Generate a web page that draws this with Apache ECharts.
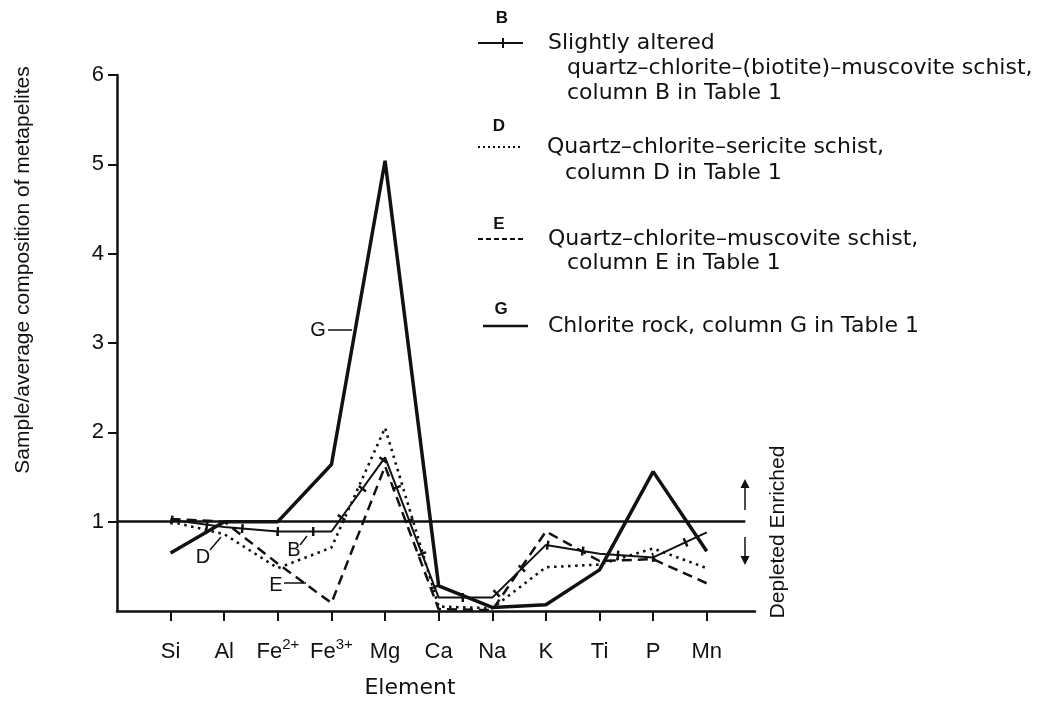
<!DOCTYPE html>
<html>
<head>
<meta charset="utf-8">
<script src="https://cdn.jsdelivr.net/npm/echarts@6/dist/echarts.min.js"></script>
<style>
html,body{margin:0;padding:0;background:#fff;}
#chart{width:1056px;height:706px;}
</style>
</head>
<body>
<div id="chart"></div>
<script>
// ---- data ----
const elements = ['Si', 'Al', 'Fe2+', 'Fe3+', 'Mg', 'Ca', 'Na', 'K', 'Ti', 'P', 'Mn'];
const seriesB = [1.02, 0.94, 0.89, 0.89, 1.72, 0.15, 0.15, 0.74, 0.64, 0.60, 0.88];
const seriesD = [1.00, 0.86, 0.48, 0.71, 2.05, 0.05, 0.03, 0.49, 0.52, 0.70, 0.48];
const seriesE = [1.03, 1.00, 0.53, 0.09, 1.62, 0.02, 0.01, 0.89, 0.56, 0.58, 0.31];
const seriesG = [0.65, 1.00, 1.00, 1.64, 5.04, 0.28, 0.04, 0.07, 0.46, 1.56, 0.67];
const yTicks = [1, 2, 3, 4, 5, 6];
const legendB = ['Slightly altered', 'quartz\u2013chlorite\u2013(biotite)\u2013muscovite schist,', 'column B in Table 1'];
const legendD = ['Quartz\u2013chlorite\u2013sericite schist,', 'column D in Table 1'];
const legendE = ['Quartz\u2013chlorite\u2013muscovite schist,', 'column E in Table 1'];
const legendG = ['Chlorite rock, column G in Table 1'];

const INK = '#111';
const pairs = arr => arr.map((v, i) => [i, v]);
const xIdx = elements.map((_, i) => i);

function fmtEl(v) {
  const s = elements[Math.round(v)];
  if (s === undefined) return '';
  const m = s.match(/^([A-Za-z]+)(\d\+)$/);
  if (m) return '{b|' + m[1] + '}{s|' + m[2] + '}';
  return '{b|' + s + '}';
}

const LF = '"DejaVu Sans", sans-serif';
const AF = '"Liberation Sans", Arial, sans-serif';

function txt(text, x, y, size, family, opts) {
  opts = opts || {};
  return {
    type: 'text', x: x, y: y, rotation: opts.rotation || 0, silent: true,
    style: {
      text: text, font: (opts.weight || 'normal') + ' ' + size + 'px ' + family, fill: INK,
      align: opts.align || 'left', textAlign: opts.align || 'left',
      verticalAlign: 'middle', textVerticalAlign: 'middle'
    }
  };
}
function seg(x1, y1, x2, y2, w, dash) {
  return {
    type: 'line', silent: true,
    shape: { x1: x1, y1: y1, x2: x2, y2: y2 },
    style: { stroke: INK, lineWidth: w, lineDash: dash || null }
  };
}
function head(x, y, dir) {
  return {
    type: 'polygon', silent: true,
    shape: { points: [[x - 4.5, y - dir * 9], [x + 4.5, y - dir * 9], [x, y]] },
    style: { fill: INK }
  };
}

const graphics = [
  // axis titles
  txt('Sample/average composition of metapelites', 23, 270, 21, AF, { align: 'center', rotation: Math.PI / 2 }),
  txt('Element', 410, 688, 22, LF, { align: 'center' }),
  // enriched / depleted
  txt('Depleted Enriched', 778, 532, 21, AF, { align: 'center', rotation: Math.PI / 2 }),
  seg(745, 510, 745, 486, 1.5), head(745, 479, -1),
  seg(745, 537, 745, 557, 1.5), head(745, 565, 1),
  // in-plot labels
  txt('D', 203, 557, 20, AF, { align: 'center' }), seg(210, 550, 221, 537, 1.5),
  txt('B', 294, 550, 20, AF, { align: 'center' }), seg(300, 545, 307, 536, 1.5),
  txt('E', 276, 585, 20, AF, { align: 'center' }), seg(284, 583, 306, 583, 1.5),
  txt('G', 318, 330, 20, AF, { align: 'center' }), seg(328, 330, 352, 330, 1.5),
  // legend B
  txt('B', 502, 18, 17, AF, { align: 'center', weight: 'bold' }),
  seg(478, 43, 523, 43, 2), seg(503, 38, 503, 48, 2),
  txt(legendB[0], 548, 43, 22, LF), txt(legendB[1], 567, 68, 22, LF), txt(legendB[2], 567, 93, 22, LF),
  // legend D
  txt('D', 499, 126, 17, AF, { align: 'center', weight: 'bold' }),
  seg(478, 147, 523, 147, 2, [2, 3]),
  txt(legendD[0], 547, 147, 22, LF), txt(legendD[1], 565, 173, 22, LF),
  // legend E
  txt('E', 499, 224, 17, AF, { align: 'center', weight: 'bold' }),
  seg(478, 239, 525, 239, 1.8, [5, 3]),
  txt(legendE[0], 548, 239, 22, LF), txt(legendE[1], 567, 263, 22, LF),
  // legend G
  txt('G', 501, 309, 17, AF, { align: 'center', weight: 'bold' }),
  seg(483, 326, 528, 326, 2.5),
  txt(legendG[0], 548, 326, 22, LF)
];

const chart = echarts.init(document.getElementById('chart'), null, { renderer: 'canvas' });
chart.setOption({
  animation: false,
  backgroundColor: '#fff',
  grid: { left: 117, right: 301, top: 75, bottom: 95, containLabel: false, outerBoundsMode: 'none' },
  xAxis: {
    type: 'value', min: -1, max: 10.9, interval: 1,
    axisLine: { onZero: false, lineStyle: { color: INK, width: 2.5 } },
    axisTick: { show: true, customValues: xIdx, length: 10, lineStyle: { color: INK, width: 2 } },
    axisLabel: {
      customValues: xIdx, formatter: fmtEl, margin: 26, color: INK,
      rich: {
        b: { fontFamily: AF, fontSize: 22, color: INK, verticalAlign: 'bottom', lineHeight: 26 },
        s: { fontFamily: AF, fontSize: 15, color: INK, verticalAlign: 'top', lineHeight: 26, padding: [0, 0, 8, 0] }
      }
    },
    splitLine: { show: false }
  },
  yAxis: {
    type: 'value', min: 0, max: 6, interval: 1,
    axisLine: { show: true, onZero: false, lineStyle: { color: INK, width: 2.5 } },
    axisTick: { show: true, customValues: yTicks, length: 9, lineStyle: { color: INK, width: 2 } },
    axisLabel: {
      customValues: yTicks, formatter: v => (v === 0 ? '' : String(v)),
      margin: 13, color: INK, fontFamily: AF, fontSize: 22
    },
    splitLine: { show: false }
  },
  graphic: { elements: graphics },
  series: [
    {
      name: 'G', type: 'line', data: pairs(seriesG), symbol: 'none', z: 5,
      lineStyle: { color: INK, width: 3.5, type: 'solid' },
      markLine: {
        silent: true, symbol: 'none', label: { show: false },
        lineStyle: { color: INK, width: 2.5, type: 'solid' },
        data: [[{ coord: [-1, 1] }, { coord: [10.72, 1] }]]
      }
    },
    {
      name: 'B', type: 'line', data: pairs(seriesB), symbol: 'none', z: 4,
      lineStyle: { color: INK, width: 2, type: 'solid' }
    },
    {
      name: 'B ticks', type: 'line', data: pairs(seriesB), symbol: 'none', z: 4,
      lineStyle: { color: INK, width: 9, type: [2.5, 33], cap: 'butt' }
    },
    {
      name: 'D', type: 'line', data: pairs(seriesD), symbol: 'none', z: 3,
      lineStyle: { color: INK, width: 2.6, type: [2.5, 4.5], cap: 'butt' }
    },
    {
      name: 'E', type: 'line', data: pairs(seriesE), symbol: 'none', z: 3,
      lineStyle: { color: INK, width: 2.5, type: [10, 6], cap: 'butt' }
    }
  ]
});
</script>
</body>
</html>
